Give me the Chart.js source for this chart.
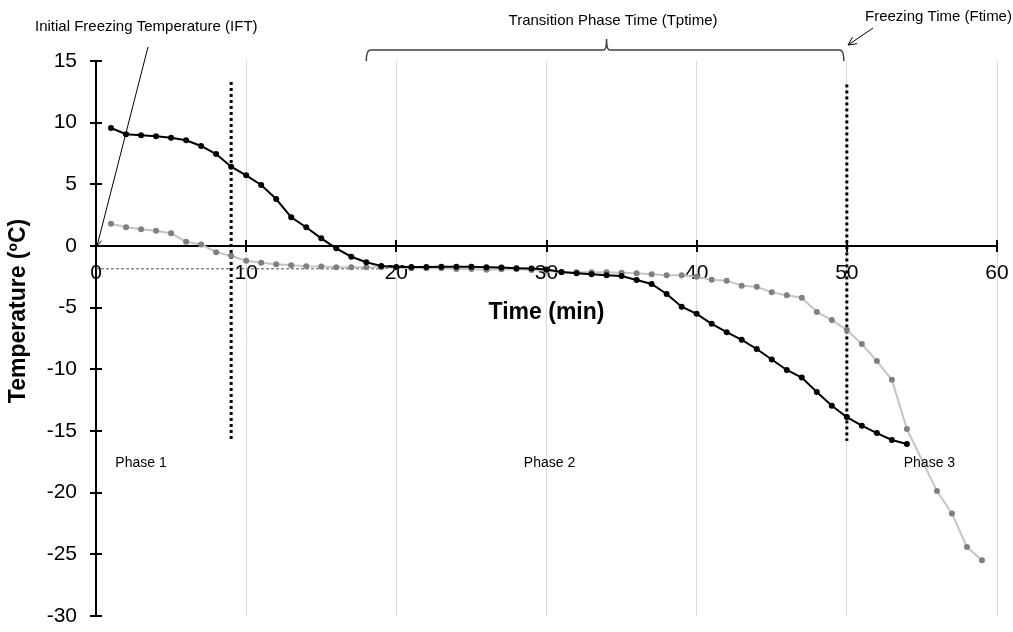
<!DOCTYPE html>
<html>
<head>
<meta charset="utf-8">
<script src="https://cdn.jsdelivr.net/npm/chart.js@4/dist/chart.umd.min.js"></script>
<style>
  html, body { margin: 0; padding: 0; background: #fff; }
  #wrap { width: 1013px; height: 632px; }
</style>
</head>
<body>
<div id="wrap"><canvas id="freezeChart"></canvas></div>
<script>
// time axis (min), one reading per minute
const timeMin = [1, 2, 3, 4, 5, 6, 7, 8, 9, 10, 11, 12, 13, 14, 15, 16, 17, 18, 19, 20,
  21, 22, 23, 24, 25, 26, 27, 28, 29, 30, 31, 32, 33, 34, 35, 36, 37, 38, 39, 40,
  41, 42, 43, 44, 45, 46, 47, 48, 49, 50, 51, 52, 53, 54, 55, 56, 57, 58, 59];

// black curve (stops at 54 min)
const tempBlack = [9.57, 9.06, 8.98, 8.90, 8.78, 8.57, 8.11, 7.46, 6.43, 5.73,
  4.95, 3.81, 2.33, 1.52, 0.62, -0.19, -0.87, -1.32, -1.62, -1.70,
  -1.70, -1.70, -1.68, -1.68, -1.68, -1.72, -1.75, -1.80, -1.83, -1.90,
  -2.11, -2.21, -2.29, -2.38, -2.43, -2.76, -3.08, -3.89, -4.92, -5.50,
  -6.31, -6.99, -7.61, -8.35, -9.20, -10.05, -10.67, -11.84, -12.95, -13.87,
  -14.57, -15.17, -15.73, -16.06];

// grey curve (no reading at 55 min)
const tempGrey = [1.81, 1.52, 1.36, 1.24, 1.03, 0.34, 0.12, -0.50, -0.79, -1.19,
  -1.36, -1.48, -1.56, -1.64, -1.66, -1.73, -1.73, -1.73, -1.73, -1.74,
  -1.81, -1.81, -1.81, -1.87, -1.87, -1.92, -1.89, -1.89, -1.95, -2.00,
  -2.13, -2.13, -2.13, -2.13, -2.16, -2.21, -2.30, -2.38, -2.38, -2.49,
  -2.73, -2.81, -3.22, -3.30, -3.76, -4.00, -4.19, -5.35, -6.01, -6.81,
  -7.95, -9.33, -10.85, -14.84, null, -19.87, -21.68, -24.41, -25.48];

// phase limits (min) and the plateau reading
const phaseLimits = [9, 50];
const phaseTop = [13.3, 13.1];
const phaseBottom = -15.8;
const plateauTemp = -1.85;
const plateauEnd = 19;

const xTicks = [0, 10, 20, 30, 40, 50, 60];
const yTicks = [15, 10, 5, 0, -5, -10, -15, -20, -25, -30];

const phaseLabels = ['Phase 1', 'Phase 2', 'Phase 3'];
const phaseLabelX = [3, 30.2, 55.5];
const phaseLabelY = -17.6;

const FONT = '"Liberation Sans", Arial, sans-serif';

function toPoints(values) {
  return values.map((v, i) => ({ x: timeMin[i], y: v }));
}

// extra drawing: crossing tick marks, brace, arrows, notes
const notes = {
  id: 'notes',
  afterDraw(chart) {
    const { ctx } = chart;
    const x = chart.scales.x, y = chart.scales.y;
    const x0 = x.getPixelForValue(0), y0 = y.getPixelForValue(0);
    ctx.save();

    // tick marks cross the axes
    ctx.strokeStyle = '#000';
    ctx.lineWidth = 2;
    ctx.beginPath();
    xTicks.forEach(t => {
      const px = Math.round(x.getPixelForValue(t));
      ctx.moveTo(px, y0 - 6);
      ctx.lineTo(px, y0 + 6);
    });
    yTicks.forEach(t => {
      const py = Math.round(y.getPixelForValue(t));
      ctx.moveTo(x0 - 6, py);
      ctx.lineTo(x0 + 6, py);
    });
    ctx.stroke();

    // IFT arrow
    ctx.lineWidth = 1;
    ctx.beginPath();
    ctx.moveTo(148, 47);
    ctx.lineTo(x0 + 1, y0);
    ctx.stroke();
    drawHead(ctx, 148, 47, x0 + 1, y0, 7);

    // Tptime brace
    const xL = x.getPixelForValue(18), xC = x.getPixelForValue(34), xR = x.getPixelForValue(50) - 3;
    ctx.strokeStyle = '#404040';
    ctx.lineWidth = 1.5;
    ctx.beginPath();
    ctx.moveTo(xL, 61);
    ctx.quadraticCurveTo(xL, 50, xL + 4, 50);
    ctx.lineTo(xC - 3, 50);
    ctx.quadraticCurveTo(xC, 50, xC, 39);
    ctx.quadraticCurveTo(xC, 50, xC + 3, 50);
    ctx.lineTo(xR - 4, 50);
    ctx.quadraticCurveTo(xR, 50, xR, 61);
    ctx.stroke();

    // Ftime arrow
    ctx.strokeStyle = '#000';
    ctx.lineWidth = 1;
    ctx.beginPath();
    ctx.moveTo(873, 28);
    ctx.lineTo(848, 45);
    ctx.stroke();
    drawHead(ctx, 873, 28, 848, 45, 9);

    // texts
    ctx.fillStyle = '#000';
    ctx.font = '15px ' + FONT;
    ctx.textBaseline = 'alphabetic';
    ctx.textAlign = 'left';
    ctx.fillText('Initial Freezing Temperature (IFT)', 35, 31);
    ctx.textAlign = 'center';
    ctx.fillText('Transition Phase Time (Tptime)', 613, 25);
    ctx.textAlign = 'left';
    ctx.fillText('Freezing Time (Ftime)', 865, 21);

    ctx.font = '14px ' + FONT;
    ctx.textAlign = 'center';
    ctx.textBaseline = 'middle';
    phaseLabels.forEach((txt, i) => {
      ctx.fillText(txt, x.getPixelForValue(phaseLabelX[i]), y.getPixelForValue(phaseLabelY));
    });

    // y axis title
    ctx.font = 'bold 23px ' + FONT;
    ctx.translate(19, 311);
    ctx.rotate(-Math.PI / 2);
    ctx.fillText('Temperature (ºC)', 0, 0);
    ctx.restore();
  }
};

function drawHead(ctx, xa, ya, xb, yb, len) {
  const ang = Math.atan2(yb - ya, xb - xa);
  ctx.beginPath();
  ctx.moveTo(xb - len * Math.cos(ang - 0.45), yb - len * Math.sin(ang - 0.45));
  ctx.lineTo(xb, yb);
  ctx.lineTo(xb - len * Math.cos(ang + 0.45), yb - len * Math.sin(ang + 0.45));
  ctx.stroke();
}

const ctx = document.getElementById('freezeChart').getContext('2d');
const myChart = new Chart(ctx, {
  type: 'line',
  data: {
    datasets: [
      {
        label: 'Sample 1',
        data: toPoints(tempBlack),
        borderColor: '#000',
        backgroundColor: '#000',
        borderWidth: 2,
        pointRadius: 3,
        pointBorderWidth: 0,
        tension: 0
      },
      {
        label: 'Sample 2',
        data: toPoints(tempGrey),
        borderColor: '#c4c4c4',
        backgroundColor: '#808080',
        borderWidth: 2,
        pointRadius: 3,
        pointBorderWidth: 0,
        spanGaps: true,
        tension: 0
      },
      {
        label: 'limit 1',
        data: [{ x: phaseLimits[0], y: phaseTop[0] }, { x: phaseLimits[0], y: phaseBottom }],
        borderColor: '#000',
        borderWidth: 3,
        borderDash: [3, 3],
        pointRadius: 0
      },
      {
        label: 'limit 2',
        data: [{ x: phaseLimits[1], y: phaseTop[1] }, { x: phaseLimits[1], y: phaseBottom }],
        borderColor: '#000',
        borderWidth: 3,
        borderDash: [3, 3],
        pointRadius: 0
      },
      {
        label: 'plateau',
        data: [{ x: 0, y: plateauTemp }, { x: plateauEnd, y: plateauTemp }],
        borderColor: '#555',
        borderWidth: 1,
        borderDash: [3, 2],
        pointRadius: 0
      }
    ]
  },
  options: {
    responsive: true,
    maintainAspectRatio: false,
    animation: false,
    events: [],
    layout: { padding: { left: 0, top: 61, right: 16, bottom: 16 } },
    plugins: {
      legend: { display: false },
      tooltip: { enabled: false }
    },
    scales: {
      x: {
        type: 'linear',
        position: { y: 0 },
        min: 0,
        max: 60,
        ticks: { stepSize: 10, color: '#000', padding: 4, font: { family: FONT, size: 21 } },
        grid: { color: '#d9d9d9', lineWidth: 1, tickColor: 'rgba(0,0,0,0)', tickLength: 11 },
        border: { color: '#000', width: 2 },
        title: {
          display: true,
          text: 'Time (min)',
          color: '#000',
          font: { family: FONT, size: 23, weight: 'bold' },
          padding: { top: 9, bottom: 0 }
        }
      },
      y: {
        type: 'linear',
        min: -30,
        max: 15,
        ticks: { stepSize: 5, color: '#000', padding: 0, font: { family: FONT, size: 21 } },
        grid: { drawOnChartArea: false, tickColor: 'rgba(0,0,0,0)', tickLength: 19 },
        border: { color: '#000', width: 2 },
        afterFit(scale) { scale.width = 96; }
      }
    }
  },
  plugins: [notes]
});
</script>
</body>
</html>
